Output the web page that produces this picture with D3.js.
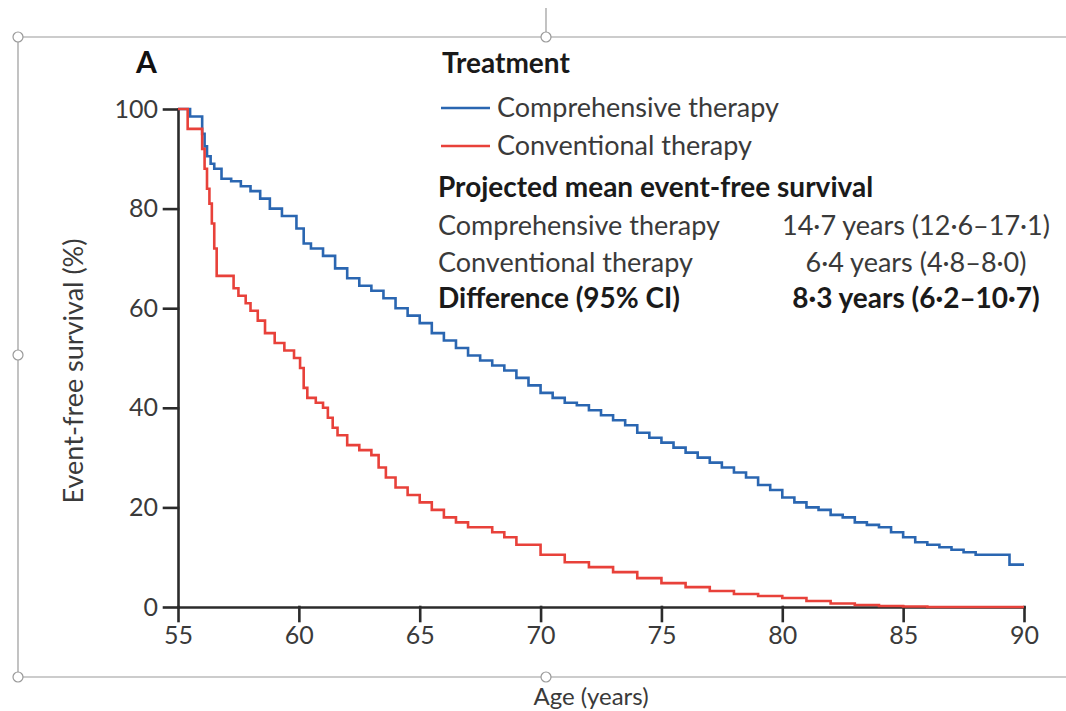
<!DOCTYPE html>
<html>
<head>
<meta charset="utf-8">
<script src="https://cdn.jsdelivr.net/npm/d3@7"></script>
<style>
  body { margin: 0; background: #fff; }
  svg { font-family: Lato, "Open Sans", sans-serif; }
</style>
</head>
<body>
<div id="chart"></div>
<script>
// Kaplan-Meier style event-free survival
const xTicks = [55, 60, 65, 70, 75, 80, 85, 90];
const yTicks = [0, 20, 40, 60, 80, 100];

const compAge = [55, 55.5, 56.0, 56.1, 56.2, 56.35, 56.5, 56.8, 57.2, 57.6, 58.0, 58.4, 58.8, 59.3, 59.9, 60.2, 60.5, 61.0, 61.5, 62.0, 62.5, 63.0, 63.5, 64.0, 64.5, 65.0, 65.5, 66.0, 66.5, 67.0, 67.5, 68.0, 68.5, 69.0, 69.5, 70.0, 70.5, 71.0, 71.5, 72.0, 72.5, 73.0, 73.5, 74.0, 74.5, 75.0, 75.5, 76.0, 76.5, 77.0, 77.5, 78.0, 78.5, 79.0, 79.5, 80.0, 80.5, 81.0, 81.5, 82.0, 82.5, 83.0, 83.5, 84.0, 84.5, 85.0, 85.5, 86.0, 86.5, 87.0, 87.5, 88.0, 89.4, 90];
const compSurv = [100, 98.5, 95, 92.5, 90.5, 89, 88, 86, 85.5, 84.5, 83.5, 82, 80, 78.5, 76, 73, 72, 70.5, 68, 66, 64.5, 63.5, 62, 60, 58.5, 57, 55, 53.5, 52, 50.5, 49.5, 48.5, 47.5, 46, 44.5, 43, 42, 41, 40.5, 39.5, 38.5, 37.5, 36.5, 35, 34, 33, 32, 31, 30, 29, 28, 27, 26, 24.5, 23.5, 22, 21, 20, 19.5, 18.5, 18, 17, 16.5, 16, 15, 14, 13, 12.5, 12, 11.5, 11, 10.5, 8.5, 8.5];

const convAge = [55, 55.4, 56.0, 56.1, 56.2, 56.3, 56.4, 56.5, 56.6, 57.3, 57.5, 57.8, 58.0, 58.3, 58.6, 59.0, 59.4, 59.8, 60.05, 60.2, 60.35, 60.7, 61.0, 61.2, 61.4, 61.6, 62.0, 62.5, 63.0, 63.3, 63.6, 64.0, 64.5, 65.0, 65.5, 66.0, 66.5, 67.0, 68.0, 68.5, 69.0, 70.0, 71.0, 72.0, 73.0, 74.0, 75.0, 76.0, 77.0, 78.0, 79.0, 80.0, 81.0, 82.0, 83.0, 84.0, 85.0, 86.0, 90];
const convSurv = [100, 96, 92, 88, 84, 81, 77, 72, 66.5, 64, 62.5, 61, 59.5, 57.5, 55, 53, 51.5, 50, 48, 44, 42, 41, 40, 38, 36, 34.5, 32.5, 31.5, 30.5, 28, 26, 24, 22.5, 21, 19.5, 18, 17, 16, 15, 14, 12.5, 10.5, 9, 8, 7, 5.8, 4.8, 4, 3.2, 2.6, 2.2, 1.8, 1.2, 0.7, 0.4, 0.2, 0.1, 0, 0];

const seriesNames = ["Comprehensive therapy", "Conventional therapy"];
const seriesColors = ["#2a66b1", "#e8413a"];

const tableLabels = ["Comprehensive therapy", "Conventional therapy", "Difference (95% CI)"];
const tableValues = ["14·7 years (12·6–17·1)", "6·4 years (4·8–8·0)", "8·3 years (6·2–10·7)"];

const width = 1066;
const height = 711;

const svg = d3.select("#chart")
    .append("svg")
    .attr("width", width)
    .attr("height", height);

// the selection frame around the embedded figure
const frame = svg.append("g")
    .attr("stroke", "#9a9a9a")
    .attr("stroke-width", 1.2)
    .attr("fill", "#fff");
frame.append("line").attr("x1", 546).attr("y1", 8).attr("x2", 546).attr("y2", 32);
frame.append("line").attr("x1", 18).attr("y1", 37).attr("x2", 1066).attr("y2", 37);
frame.append("line").attr("x1", 18).attr("y1", 37).attr("x2", 18).attr("y2", 677);
frame.append("line").attr("x1", 18).attr("y1", 677).attr("x2", 1066).attr("y2", 677);
[[18, 37], [546, 37], [18, 355], [18, 677], [546, 677]].forEach(p => {
    frame.append("circle").attr("cx", p[0]).attr("cy", p[1]).attr("r", 5);
});

const x = d3.scaleLinear().domain([55, 90]).range([178, 1024]);
const y = d3.scaleLinear().domain([0, 100]).range([607, 109]);

// axes
const xAxis = svg.append("g")
    .attr("transform", `translate(0,${y(0)})`)
    .call(d3.axisBottom(x).tickValues(xTicks).tickSize(14).tickSizeOuter(0).tickPadding(5));
const yAxis = svg.append("g")
    .attr("transform", `translate(${x(55)},0)`)
    .call(d3.axisLeft(y).tickValues(yTicks).tickSize(14).tickSizeOuter(0).tickPadding(6));

[xAxis, yAxis].forEach(a => {
    a.selectAll("path, line")
        .attr("stroke", "#2b2b2b")
        .attr("stroke-width", 2.6)
        .attr("stroke-linecap", "square");
    a.selectAll("text")
        .attr("fill", "#3a3a3a")
        .style("font-size", "25px")
        .style("font-family", "Lato, sans-serif");
});

// survival curves
const line = d3.line()
    .x(d => x(d[0]))
    .y(d => y(d[1]))
    .curve(d3.curveStepAfter);

const series = [
    d3.zip(compAge, compSurv),
    d3.zip(convAge, convSurv)
];

svg.append("g")
    .selectAll("path")
    .data(series)
    .enter().append("path")
    .attr("d", line)
    .attr("fill", "none")
    .attr("stroke", (d, i) => seriesColors[i])
    .attr("stroke-width", 2.6)
    .attr("stroke-linejoin", "miter");

// axis titles
svg.append("text")
    .attr("transform", "translate(83,371) rotate(-90)")
    .attr("text-anchor", "middle")
    .attr("fill", "#3a3a3a")
    .style("font-size", "27px")
    .text("Event-free survival (%)");

svg.append("text")
    .attr("x", 591)
    .attr("y", 705)
    .attr("text-anchor", "middle")
    .attr("fill", "#3a3a3a")
    .style("font-size", "24px")
    .text("Age (years)");

// panel letter
svg.append("text")
    .attr("x", 136)
    .attr("y", 73)
    .attr("fill", "#111")
    .style("font-size", "30px")
    .style("font-weight", "bold")
    .text("A");

// legend and summary table
const legend = svg.append("g");
legend.append("text")
    .attr("x", 442).attr("y", 73)
    .attr("fill", "#1a1a1a")
    .style("font-size", "28px")
    .style("font-weight", "bold")
    .text("Treatment");

seriesNames.forEach((name, i) => {
    const ly = 108 + i * 38;
    legend.append("line")
        .attr("x1", 441).attr("x2", 490)
        .attr("y1", ly).attr("y2", ly)
        .attr("stroke", seriesColors[i])
        .attr("stroke-width", 2.6);
    legend.append("text")
        .attr("x", 497).attr("y", ly + 9)
        .attr("fill", "#3a3a3a")
        .style("font-size", "27px")
        .text(name);
});

legend.append("text")
    .attr("x", 438).attr("y", 197)
    .attr("fill", "#1a1a1a")
    .style("font-size", "28px")
    .style("font-weight", "bold")
    .text("Projected mean event-free survival");

tableLabels.forEach((label, i) => {
    const ty = 235 + i * 36.5;
    const bold = i === 2;
    legend.append("text")
        .attr("x", 438).attr("y", ty)
        .attr("fill", bold ? "#1a1a1a" : "#3a3a3a")
        .style("font-size", bold ? "28px" : "27px")
        .style("font-weight", bold ? "bold" : "normal")
        .text(label);
    legend.append("text")
        .attr("x", 916).attr("y", ty)
        .attr("text-anchor", "middle")
        .attr("fill", bold ? "#1a1a1a" : "#3a3a3a")
        .style("font-size", bold ? "28px" : "27px")
        .style("font-weight", bold ? "bold" : "normal")
        .text(tableValues[i]);
});
</script>
</body>
</html>
